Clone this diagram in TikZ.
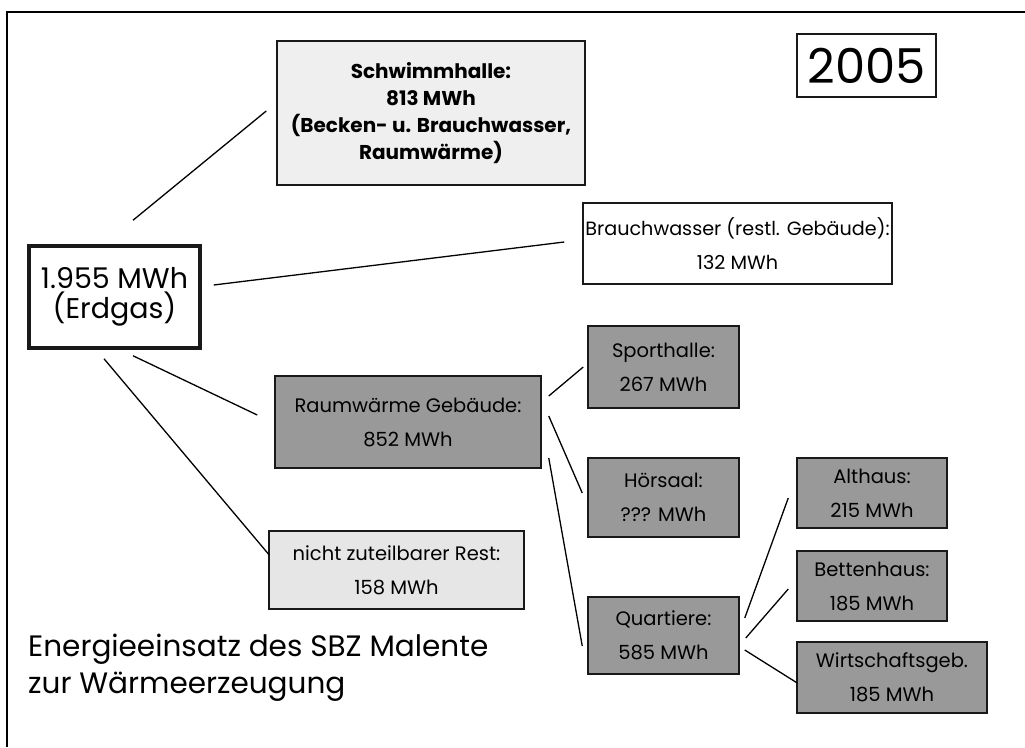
\documentclass[tikz,border=0pt]{standalone}
\usepackage{fontspec}
\setmainfont{Poppins}
\usetikzlibrary{calc}
\definecolor{darkbox}{HTML}{999999}
\definecolor{lightbox}{HTML}{EFEFEF}
\definecolor{restbox}{HTML}{E6E6E6}
\tikzset{
  box/.style={draw=black!90, line width=1.5pt, inner sep=0pt, align=center, anchor=center,
    font=\fontsize{19.5}{34}\selectfont},
  darkfill/.style={box, fill=darkbox},
  conn/.style={line width=1.3pt},
}
\begin{document}
\begin{tikzpicture}[x=1pt,y=-1pt]
\useasboundingbox (0,0) rectangle (1025,747);
% frame
\draw[line width=2.2pt] (7,747) -- (7,12) -- (1025,12);
% nodes
\node[box, line width=3.5pt, minimum width=171pt, minimum height=102pt, font=\fontsize{28.5}{30}\selectfont] (src) at (114.5,297) {1.955 MWh\\(Erdgas)};
\node[box, fill=lightbox, minimum width=308pt, minimum height=144pt, font=\fontsize{20}{27}\selectfont\bfseries] (schw) at (431,113) {Schwimmhalle:\\813 MWh\\(Becken- u. Brauchwasser,\\Raumwärme)};
\node[box, minimum width=139pt, minimum height=63pt, font=\fontsize{48}{48}\selectfont] (year) at (866.5,65.5) {2005};
\node[box, minimum width=309pt, minimum height=81pt, font=\fontsize{19.2}{34}\selectfont] (brauch) at (737.5,243.5) {Brauchwasser (restl. Gebäude):\\132 MWh};
\node[darkfill, minimum width=266pt, minimum height=92pt] (raum) at (408,422) {Raumwärme Gebäude:\\852 MWh};
\node[box, fill=restbox, minimum width=255pt, minimum height=78pt] (rest) at (396.5,570) {nicht zuteilbarer Rest:\\158 MWh};
\node[darkfill, minimum width=151pt, minimum height=82pt] (sport) at (663.5,367) {Sporthalle:\\267 MWh};
\node[darkfill, minimum width=151pt, minimum height=79pt] (hoer) at (663.5,497.5) {Hörsaal:\\??? MWh};
\node[darkfill, minimum width=151pt, minimum height=77pt] (quart) at (663.5,635.5) {Quartiere:\\585 MWh};
\node[darkfill, minimum width=150pt, minimum height=70pt] (alt) at (872,493) {Althaus:\\215 MWh};
\node[darkfill, minimum width=150pt, minimum height=70pt] (bett) at (872,586) {Bettenhaus:\\185 MWh};
\node[darkfill, minimum width=190pt, minimum height=71pt] (wirt) at (892,677.5) {Wirtschaftsgeb.\\185 MWh};
\node[anchor=north west, inner sep=0pt, align=left, font=\fontsize{29.5}{37}\selectfont] (title) at (28,634) {Energieeinsatz des SBZ Malente\\zur Wärmeerzeugung};
% connectors
\draw[conn] ([shift={(18.5,-24)}]src.north) -- ([shift={(-10,-2)}]schw.west);
\draw[conn] ([shift={(12,-12)}]src.east) -- ([shift={(-18,-1.5)}]brauch.west);
\draw[conn] ([shift={(18.5,6)}]src.south) -- ([shift={(-17,-7)}]raum.west);
\draw[conn] ([shift={(-10.5,9)}]src.south) -- ([shift={(1,-15)}]rest.west);
\draw[conn] ([shift={(7,-26)}]raum.east) -- ([shift={(-4,0)}]sport.west);
\draw[conn] ([shift={(7,-6)}]raum.east) -- ([shift={(-5,-4.5)}]hoer.west);
\draw[conn] ([shift={(7,36)}]raum.east) -- ([shift={(-5,10.5)}]quart.west);
\draw[conn] ([shift={(5,-17.5)}]quart.east) -- ([shift={(-8,5)}]alt.west);
\draw[conn] ([shift={(6,2.5)}]quart.east) -- ([shift={(-8,3)}]bett.west);
\draw[conn] ([shift={(5,14.5)}]quart.east) -- ([shift={(1,5.5)}]wirt.west);
\end{tikzpicture}
\end{document}
